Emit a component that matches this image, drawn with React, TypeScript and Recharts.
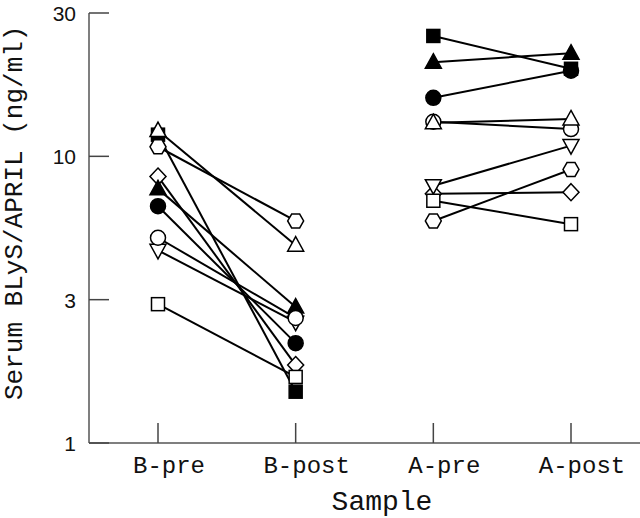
import React from "react";
import { LineChart, Line, XAxis, YAxis, Label } from "recharts";

// sample groups on the x axis
const categories = ["B-pre", "B-post", "A-pre", "A-post"];

// log axis: ticks are spaced half a decade apart, labelled 1 / 3 / 10 / 30
const yTicks = [1, 3.1623, 10, 31.623];
const yTickLabels = ["1", "3", "10", "30"];

// B group (later entries are drawn on top)
const bShapes = ["squareFilled", "triangleOpen", "hexagon", "diamond", "triangleFilled", "circleFilled", "triangleDown", "circleOpen", "squareOpen"];
const bPre = [11.9, 12.3, 10.8, 8.5, 7.7, 6.7, 4.7, 5.2, 3.05];
const bPost = [1.51, 4.9, 5.95, 1.87, 2.98, 2.23, 2.64, 2.73, 1.7];

// A group
const aShapes = ["circleFilled", "squareFilled", "triangleFilled", "circleOpen", "triangleOpen", "diamond", "triangleDown", "squareOpen", "hexagon"];
const aPre = [16.0, 26.3, 21.3, 13.2, 13.1, 7.4, 7.9, 7.0, 5.95];
const aPost = [19.9, 20.2, 22.9, 12.45, 13.5, 7.5, 10.9, 5.8, 9.0];

const data = categories.map((name, i) => {
  const row: Record<string, any> = { name };
  bShapes.forEach((_, j) => {
    row[`b${j}`] = i === 0 ? bPre[j] : i === 1 ? bPost[j] : null;
  });
  aShapes.forEach((_, j) => {
    row[`a${j}`] = i === 2 ? aPre[j] : i === 3 ? aPost[j] : null;
  });
  return row;
});

const MONO = "'Liberation Mono', 'Courier New', monospace";
const SANS = "'Liberation Sans', Arial, sans-serif";
const AXIS = "#555";

const renderMarker = (shape: string, props: any) => {
  const { cx, cy, index } = props;
  const key = `${shape}-${props.dataKey}-${index}`;
  if (cx == null || cy == null || isNaN(cy)) return <g key={key} />;
  const style = {
    fill: shape.endsWith("Filled") ? "#000" : "#fff",
    stroke: "#000",
    strokeWidth: 1.5,
  };
  if (shape.startsWith("square")) {
    return <rect key={key} x={cx - 6.5} y={cy - 6.5} width={13} height={13} {...style} />;
  }
  if (shape.startsWith("circle")) {
    return <circle key={key} cx={cx} cy={cy} r={7.5} {...style} />;
  }
  if (shape.startsWith("triangle") && shape !== "triangleDown") {
    return <polygon key={key} points={`${cx},${cy - 8.5} ${cx + 8},${cy + 6} ${cx - 8},${cy + 6}`} {...style} />;
  }
  if (shape === "triangleDown") {
    return <polygon key={key} points={`${cx - 8},${cy - 6} ${cx + 8},${cy - 6} ${cx},${cy + 8.5}`} {...style} />;
  }
  if (shape === "diamond") {
    return <polygon key={key} points={`${cx},${cy - 8.5} ${cx + 8},${cy} ${cx},${cy + 8.5} ${cx - 8},${cy}`} {...style} />;
  }
  // hexagon
  const pts = [0, 60, 120, 180, 240, 300]
    .map((a) => `${cx + 8 * Math.cos((a * Math.PI) / 180)},${cy + 8 * Math.sin((a * Math.PI) / 180)}`)
    .join(" ");
  return <polygon key={key} points={pts} {...style} />;
};

const XTick = (props: any) => {
  const { x, y, payload } = props;
  return (
    <g>
      <line x1={x} y1={y} x2={x} y2={y - 20} stroke="#444" strokeWidth={1.5} />
      <text x={x + 11} y={y + 30} textAnchor="middle" fontFamily={MONO} fontSize={24} fill="#111">
        {payload.value}
      </text>
    </g>
  );
};

const YTick = (props: any) => {
  const { x, y, payload, index } = props;
  return (
    <g>
      <line x1={x} y1={y} x2={x + 20} y2={y} stroke="#444" strokeWidth={1.5} />
      <text x={x - 13} y={y + 8} textAnchor="end" fontFamily={SANS} fontSize={21} fill="#111">
        {yTickLabels[index] ?? payload.value}
      </text>
    </g>
  );
};

export default function App() {
  return (
    <div style={{ position: "absolute", left: 0, top: 0 }}>
      <LineChart width={640} height={518} data={data} margin={{ top: 13, right: 0, left: 0, bottom: 0 }}>
        <XAxis
          dataKey="name"
          height={75}
          padding={{ left: 69, right: 69 }}
          axisLine={{ stroke: AXIS, strokeWidth: 1.5 }}
          tickLine={false}
          tickSize={0}
          tickMargin={0}
          interval={0}
          tick={<XTick />}
        >
          <Label
            content={() => (
              <text x={382} y={510} textAnchor="middle" fontFamily={MONO} fontSize={28} fill="#111">
                Sample
              </text>
            )}
          />
        </XAxis>
        <YAxis
          scale="log"
          domain={[1, 31.623]}
          allowDataOverflow
          ticks={yTicks}
          interval={0}
          width={89}
          axisLine={{ stroke: AXIS, strokeWidth: 1.5 }}
          tickLine={false}
          tickSize={0}
          tickMargin={0}
          tick={<YTick />}
        >
          <Label
            content={() => (
              <text
                x={22}
                y={400}
                transform="rotate(-90, 22, 400)"
                textAnchor="start"
                fontFamily={MONO}
                fontSize={26}
                fill="#111"
              >
                Serum BLyS/APRIL (ng/ml)
              </text>
            )}
          />
        </YAxis>
        {bShapes.map((shape, j) => (
          <Line
            key={`b${j}`}
            type="linear"
            dataKey={`b${j}`}
            stroke="#000"
            strokeWidth={2}
            dot={(p: any) => renderMarker(shape, p)}
            activeDot={false}
            connectNulls={false}
            isAnimationActive={false}
          />
        ))}
        {aShapes.map((shape, j) => (
          <Line
            key={`a${j}`}
            type="linear"
            dataKey={`a${j}`}
            stroke="#000"
            strokeWidth={2}
            dot={(p: any) => renderMarker(shape, p)}
            activeDot={false}
            connectNulls={false}
            isAnimationActive={false}
          />
        ))}
      </LineChart>
    </div>
  );
}
